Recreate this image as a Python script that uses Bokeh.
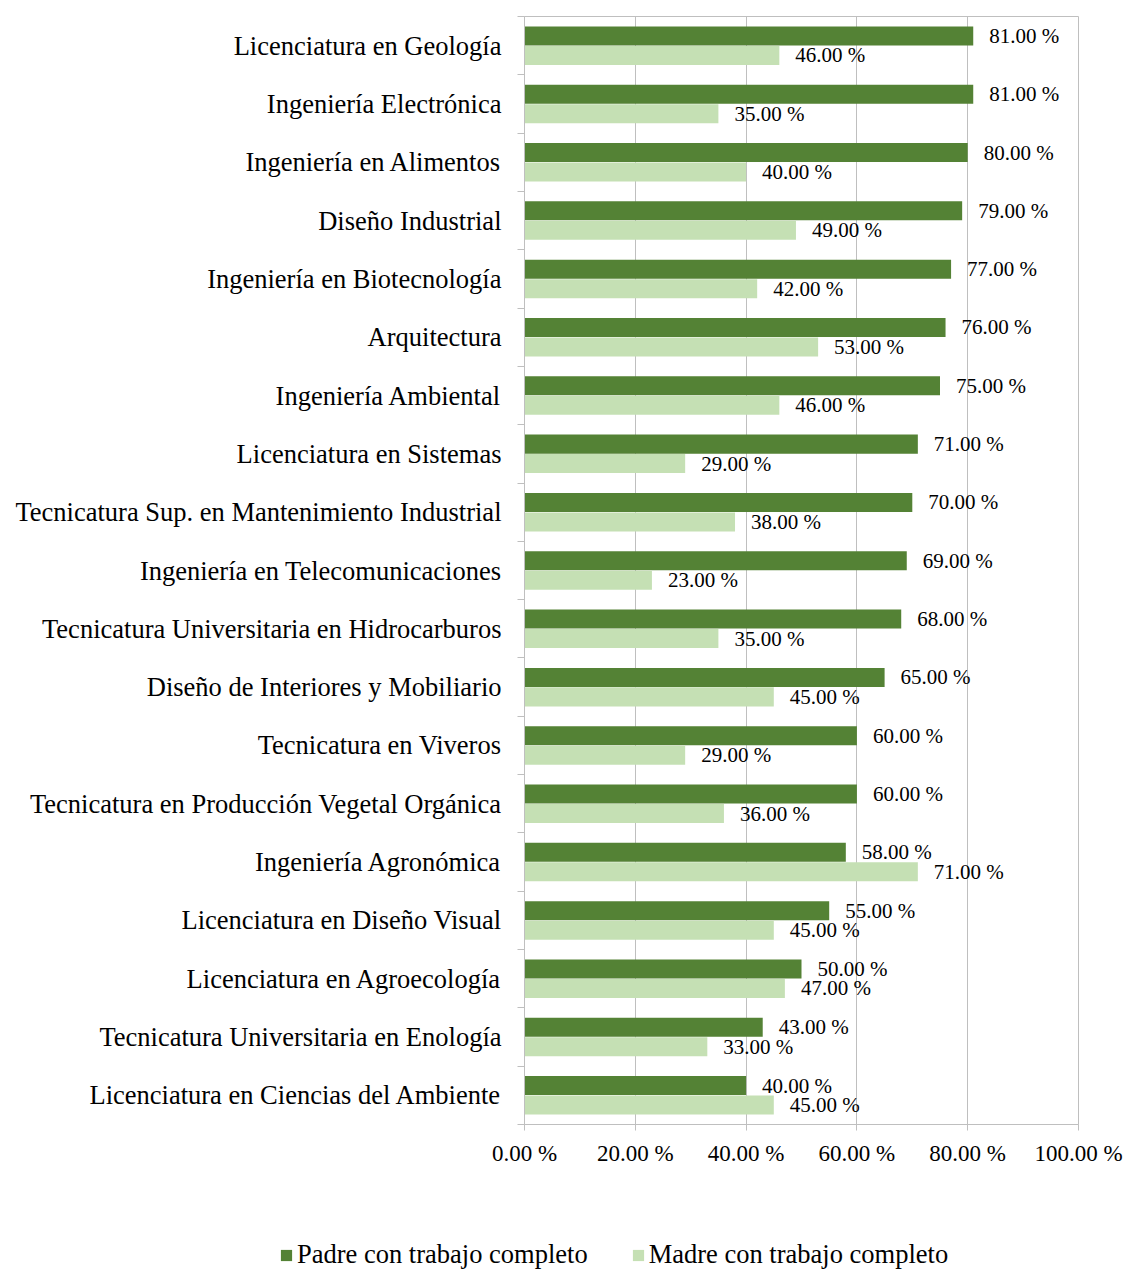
from bokeh.plotting import figure
from bokeh.layouts import column
from bokeh.models import (ColumnDataSource, FixedTicker, Legend, LegendItem,
                          PrintfTickFormatter, Range1d)
from bokeh.core.properties import value
from bokeh.embed import file_html
from bokeh.resources import INLINE

categories = [
    "Licenciatura en Geología",
    "Ingeniería Electrónica",
    "Ingeniería en Alimentos",
    "Diseño Industrial",
    "Ingeniería en Biotecnología",
    "Arquitectura",
    "Ingeniería Ambiental",
    "Licenciatura en Sistemas",
    "Tecnicatura Sup. en Mantenimiento Industrial",
    "Ingeniería en Telecomunicaciones",
    "Tecnicatura Universitaria en Hidrocarburos",
    "Diseño de Interiores y Mobiliario",
    "Tecnicatura en Viveros",
    "Tecnicatura en Producción Vegetal Orgánica",
    "Ingeniería Agronómica",
    "Licenciatura en Diseño Visual",
    "Licenciatura en Agroecología",
    "Tecnicatura Universitaria en Enología",
    "Licenciatura en Ciencias del Ambiente",
]
padre = [81, 81, 80, 79, 77, 76, 75, 71, 70, 69, 68, 65, 60, 60, 58, 55, 50, 43, 40]
madre = [46, 35, 40, 49, 42, 53, 46, 29, 38, 23, 35, 45, 29, 36, 71, 45, 47, 33, 45]
series_names = ["Padre con trabajo completo", "Madre con trabajo completo"]
x_ticks = [0, 20, 40, 60, 80, 100]

FONT = "Liberation Serif"
DARK = "#548235"
LIGHT = "#C5E0B4"
GREY = "#BFBFBF"

n = len(categories)
centers = [n - 1 - i for i in range(n)]
off = 0.167
bh = 0.326

src_p = ColumnDataSource(dict(y=[c + off for c in centers], x=padre,
                              lab=[f"{v:.2f} %" for v in padre]))
src_m = ColumnDataSource(dict(y=[c - off for c in centers], x=madre,
                              lab=[f"{v:.2f} %" for v in madre]))

p = figure(width=1126, height=1232, output_backend="svg", toolbar_location=None,
           x_range=Range1d(0, 100), y_range=Range1d(-0.5, n - 0.5),
           min_border_left=524, min_border_right=48, min_border_top=16,
           min_border_bottom=108)

p.hbar(y="y", right="x", left=0, height=bh, source=src_p, fill_color=DARK, line_color=None)
p.hbar(y="y", right="x", left=0, height=bh, source=src_m, fill_color=LIGHT, line_color=None)

p.text(x="x", y="y", text="lab", source=src_p, x_offset=16, text_align="left",
       text_baseline="middle", text_font=value(FONT), text_font_size="21px", text_color="#000000")
p.text(x="x", y="y", text="lab", source=src_m, x_offset=16, text_align="left",
       text_baseline="middle", text_font=value(FONT), text_font_size="21px", text_color="#000000")

# x axis
p.xaxis.ticker = FixedTicker(ticks=x_ticks)
p.xaxis.formatter = PrintfTickFormatter(format="%.2f %%")
p.xaxis.axis_line_color = GREY
p.xaxis.major_tick_line_color = GREY
p.xaxis.major_tick_out = 6
p.xaxis.major_tick_in = 0
p.xaxis.minor_tick_line_color = None
p.xaxis.major_label_text_font = FONT
p.xaxis.major_label_text_font_size = "23px"
p.xaxis.major_label_text_color = "#000000"
p.xaxis.major_label_standoff = 10

# y axis
p.yaxis.ticker = FixedTicker(ticks=centers, minor_ticks=[c - 0.5 for c in range(n + 1)])
p.yaxis.major_label_overrides = {c: categories[i] for i, c in enumerate(centers)}
p.yaxis.axis_line_color = GREY
p.yaxis.major_tick_line_color = None
p.yaxis.major_tick_out = 0
p.yaxis.major_tick_in = 0
p.yaxis.minor_tick_line_color = GREY
p.yaxis.minor_tick_out = 7
p.yaxis.minor_tick_in = 0
p.yaxis.major_label_text_font = FONT
p.yaxis.major_label_text_font_size = "26.5px"
p.yaxis.major_label_text_color = "#000000"
p.yaxis.major_label_standoff = 16

p.xgrid.ticker = FixedTicker(ticks=x_ticks)
p.xgrid.grid_line_color = GREY
p.ygrid.grid_line_color = None
p.outline_line_color = GREY

# legend strip below the chart (its data sit entirely outside its visible ranges)
lg = figure(width=1126, height=38, output_backend="svg", toolbar_location=None,
            x_axis_type=None, y_axis_type=None, min_border=0,
            x_range=Range1d(-300, -200), y_range=Range1d(-60, -50))
lg.frame_align = False
lg.outline_line_color = None
lg.grid.grid_line_color = None
l1 = lg.hbar(y="y", right="x", left=0, height=bh, source=src_p, fill_color=DARK, line_color=None)
l2 = lg.hbar(y="y", right="x", left=0, height=bh, source=src_m, fill_color=LIGHT, line_color=None)
legend = Legend(items=[LegendItem(label=series_names[0], renderers=[l1]),
                       LegendItem(label=series_names[1], renderers=[l2])],
                orientation="horizontal", location=(279, 0),
                label_text_font=FONT, label_text_font_size="26.5px", label_text_color="#000000",
                glyph_width=14, glyph_height=14, label_standoff=4, spacing=43,
                padding=0, margin=0, border_line_color=None, background_fill_alpha=0)
lg.add_layout(legend, "center")

layout = column(p, lg, spacing=0)
open("out.html", "w").write(file_html(layout, INLINE))
